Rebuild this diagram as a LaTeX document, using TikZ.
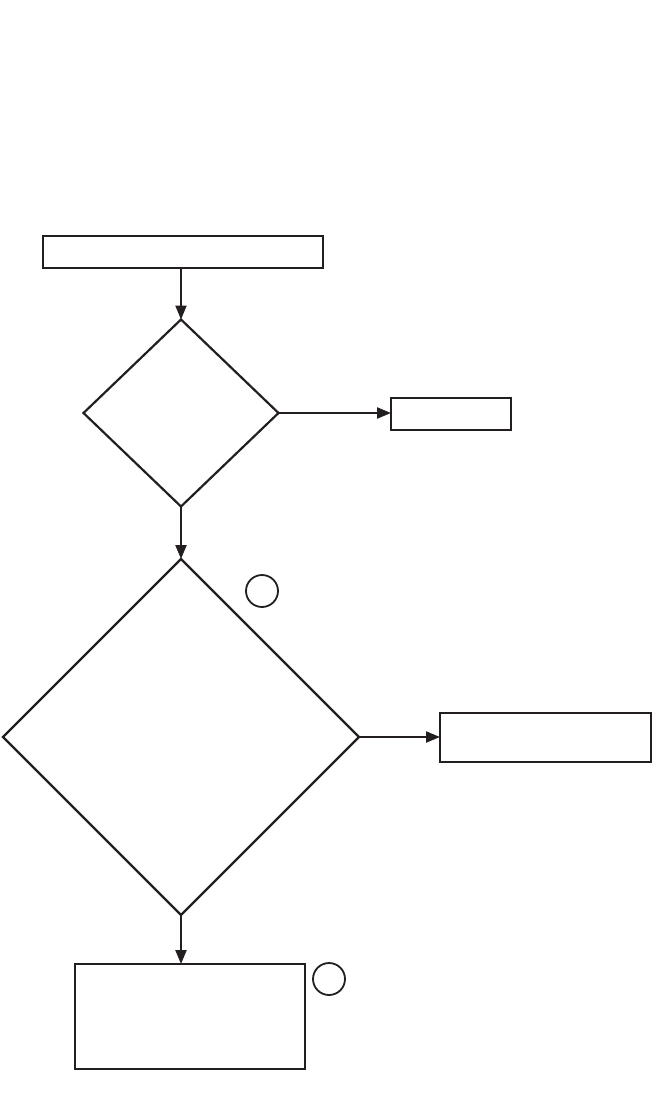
\documentclass[tikz,border=0pt]{standalone}
\usepackage{tikz}
\usetikzlibrary{shapes.geometric,arrows.meta,positioning,calc}
\definecolor{ink}{RGB}{35,31,32}
\tikzset{
  box/.style={draw=ink,rectangle,inner sep=0pt,outer sep=0pt,line width=2.2pt},
  dec/.style={draw=ink,diamond,inner sep=0pt,outer sep=0pt,line width=2.2pt},
  tag/.style={draw=ink,circle,minimum size=32pt,inner sep=0pt,line width=1.8pt},
  arr/.style={-{Triangle[length=14pt,width=11pt]},draw=ink,fill=ink,line width=2.2pt}
}
\begin{document}
\begin{tikzpicture}[x=1pt,y=-1pt]
\useasboundingbox (0,0) rectangle (653,1106);
\node[box,minimum width=280pt,minimum height=32pt] (start) at (183,252) {};
\node[dec,minimum width=195pt,minimum height=187pt] (check) at (181,413) {};
\node[box,minimum width=120pt,minimum height=32pt] (alt) at (451,414) {};
\node[dec,minimum width=356pt,minimum height=356pt] (test) at (181,737) {};
\node[tag] (tagA) at (262,591) {};
\node[box,minimum width=211pt,minimum height=49pt] (result) at (545.5,737.5) {};
\node[box,minimum width=230pt,minimum height=105pt] (final) at (190,1016.5) {};
\node[tag] (tagB) at (329,979) {};
\draw[arr] (start.south -| check.north) -- (check.north);
\draw[arr] (check.east) -- (check.east -| alt.west);
\draw[arr] (check.south) -- (test.north);
\draw[arr] (test.east) -- (test.east -| result.west);
\draw[arr] (test.south) -- (test.south |- final.north);
\end{tikzpicture}
\end{document}
